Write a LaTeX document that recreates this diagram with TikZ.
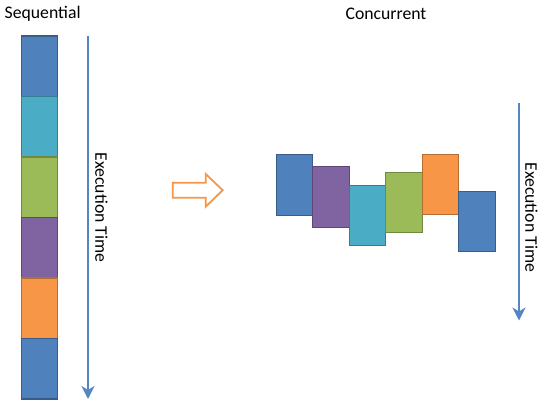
\documentclass[tikz,border=0pt]{standalone}
\usepackage{fontspec}
\setmainfont{Carlito}
\usepackage{tikz}
\usetikzlibrary{calc, arrows.meta, positioning}

\definecolor{taskblue}{RGB}{79,129,189}
\definecolor{taskblueb}{RGB}{56,93,138}
\definecolor{taskcyan}{RGB}{75,172,198}
\definecolor{taskcyanb}{RGB}{53,125,145}
\definecolor{taskgreen}{RGB}{155,187,89}
\definecolor{taskgreenb}{RGB}{113,137,63}
\definecolor{taskpurple}{RGB}{128,100,162}
\definecolor{taskpurpleb}{RGB}{92,71,118}
\definecolor{taskorange}{RGB}{247,150,70}
\definecolor{taskorangeb}{RGB}{182,109,49}
\definecolor{timeblue}{RGB}{84,134,196}

\tikzset{
    blocknode/.style = {draw, rectangle, inner sep = 0em, outer sep = 0em, line width=1.2pt,
      minimum width=36.5pt, minimum height=60.5pt},
    bluenode/.style = {blocknode, fill=taskblue, draw=taskblueb},
    cyannode/.style = {blocknode, fill=taskcyan, draw=taskcyanb},
    greennode/.style = {blocknode, fill=taskgreen, draw=taskgreenb},
    purplenode/.style = {blocknode, fill=taskpurple, draw=taskpurpleb},
    orangenode/.style = {blocknode, fill=taskorange, draw=taskorangeb},
    textnode/.style  = {draw=none, fill=none, rectangle, inner sep = 0em, font=\fontsize{17.7}{20}\selectfont},
    timetext/.style = {textnode, rotate=-90},
    connect/.style = {timeblue, line width=2.6pt, -{Stealth[length=13pt, width=13pt, inset=4pt]}}
}

\begin{document}
\begin{tikzpicture}[x=1pt, y=-1pt]
    \useasboundingbox (0,0) rectangle (551,412);

    % sequential column
    \node [textnode, anchor=base west] (seqlabel) at (4.5,19) {Sequential};
    \node [bluenode] (S1) at (39.5,66.25) {};
    \node [cyannode, below=0pt of S1] (S2) {};
    \node [greennode, below=0pt of S2] (S3) {};
    \node [purplenode, below=0pt of S3] (S4) {};
    \node [orangenode, below=0pt of S4] (S5) {};
    \node [bluenode, below=0pt of S5] (S6) {};

    \coordinate (seqstart) at (88,36);
    \coordinate (seqend) at (88,399);
    \draw [connect] (seqstart) -- (seqend);
    \node [timetext] (seqtime) at (101.5,207.5) {Execution Time};

    % hollow arrow
    \draw [taskorange, line width=1.8pt, fill=white] (172.7,182.7) -- (205.7,182.7) -- (205.7,174)
      -- (222.7,190.2) -- (205.7,206.7) -- (205.7,197.7) -- (172.7,197.7) -- cycle;

    % concurrent tasks
    \node [textnode, anchor=base] (conlabel) at (386,19.5) {Concurrent};
    \node [bluenode] (C1) at (294.5,185) {};
    \node [purplenode, right=0pt of C1, yshift=-12pt] (C2) {};
    \node [cyannode, right=0pt of C2, yshift=-18.5pt] (C3) {};
    \node [greennode, right=0pt of C3, yshift=13pt] (C4) {};
    \node [orangenode, right=0pt of C4, yshift=18pt] (C5) {};
    \node [bluenode, right=0pt of C5, yshift=-37pt] (C6) {};

    \coordinate (constart) at (519,102.5);
    \coordinate (conend) at (519,320.5);
    \draw [connect] (constart) -- (conend);
    \node [timetext] (contime) at (531.5,217.3) {Execution Time};
\end{tikzpicture}
\end{document}
